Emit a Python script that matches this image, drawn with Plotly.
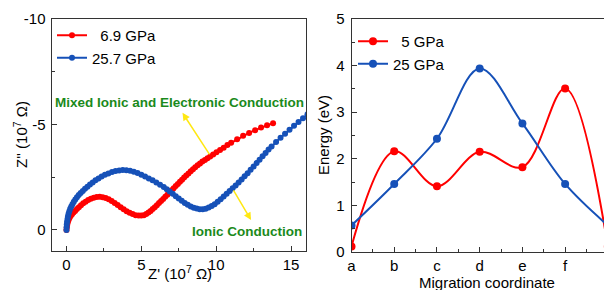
import plotly.graph_objects as go

# ---------------- data: left panel (Nyquist plot) ----------------
red_label = "\u00a0\u00a06.9 GPa"
blue_label = "25.7 GPa"
red_zre = [0, 0.02, 0.05, 0.09, 0.14, 0.2, 0.28, 0.37, 0.47, 0.58, 0.7, 0.83, 0.97, 1.12, 1.28,
           1.45, 1.63, 1.82, 2.02, 2.22, 2.42, 2.62, 2.82, 3.02, 3.22, 3.42, 3.62, 3.82, 4.02,
           4.22, 4.42, 4.62, 4.82, 5.0, 5.17, 5.33, 5.48, 5.62, 5.76, 5.9, 6.04, 6.18, 6.32,
           6.46, 6.6, 6.74, 6.88, 7.02, 7.16, 7.3, 7.44, 7.58, 7.72, 7.86, 8.0, 8.15, 8.3, 8.45,
           8.6, 8.76, 8.92, 9.08, 9.25, 9.42, 9.6, 9.8, 10.02, 10.26, 10.5, 10.75, 11.0, 11.4,
           11.8, 12.2, 12.6, 13.0, 13.4, 13.8]
red_zim = [0, -0.12, -0.24, -0.36, -0.47, -0.57, -0.66, -0.74, -0.82, -0.9, -0.99, -1.08, -1.17,
           -1.26, -1.34, -1.42, -1.48, -1.53, -1.56, -1.57, -1.55, -1.51, -1.45, -1.37, -1.28,
           -1.18, -1.08, -0.98, -0.89, -0.81, -0.75, -0.7, -0.68, -0.68, -0.7, -0.75, -0.82,
           -0.9, -0.99, -1.08, -1.17, -1.27, -1.37, -1.47, -1.57, -1.67, -1.77, -1.88, -1.98,
           -2.08, -2.18, -2.28, -2.38, -2.48, -2.58, -2.68, -2.78, -2.88, -2.97, -3.06, -3.15,
           -3.24, -3.32, -3.4, -3.48, -3.58, -3.68, -3.79, -3.9, -4.02, -4.13, -4.3, -4.46,
           -4.6, -4.73, -4.85, -4.96, -5.06]
blue_zre = [0, 0.01, 0.02, 0.04, 0.07, 0.1, 0.14, 0.19, 0.25, 0.32, 0.4, 0.49, 0.59, 0.7, 0.82,
            0.95, 1.09, 1.24, 1.4, 1.57, 1.75, 1.94, 2.14, 2.35, 2.57, 2.8, 3.04, 3.28, 3.52,
            3.76, 4.0, 4.25, 4.5, 4.75, 5.0, 5.25, 5.5, 5.75, 6.0, 6.25, 6.5, 6.7, 6.9, 7.1,
            7.3, 7.5, 7.7, 7.9, 8.1, 8.3, 8.5, 8.7, 8.9, 9.1, 9.3, 9.5, 9.7, 9.9, 10.1, 10.3,
            10.5, 10.7, 10.9, 11.1, 11.3, 11.5, 11.7, 11.9, 12.1, 12.3, 12.5, 12.7, 12.9, 13.1,
            13.3, 13.5, 13.7, 14.0, 14.3, 14.6, 14.9, 15.2, 15.5, 15.8, 16.1]
blue_zim = [0, -0.13, -0.26, -0.39, -0.52, -0.65, -0.77, -0.89, -1.0, -1.11, -1.22, -1.33, -1.44,
            -1.55, -1.65, -1.75, -1.85, -1.95, -2.05, -2.15, -2.25, -2.35, -2.44, -2.53, -2.61,
            -2.68, -2.74, -2.79, -2.82, -2.84, -2.83, -2.81, -2.76, -2.7, -2.62, -2.53, -2.44,
            -2.35, -2.25, -2.14, -2.03, -1.93, -1.82, -1.71, -1.6, -1.49, -1.38, -1.28, -1.19,
            -1.11, -1.05, -1.01, -0.98, -0.98, -1.0, -1.06, -1.13, -1.22, -1.33, -1.45, -1.58,
            -1.71, -1.84, -1.97, -2.11, -2.25, -2.39, -2.54, -2.69, -2.85, -3.01, -3.17, -3.33,
            -3.49, -3.65, -3.81, -3.96, -4.17, -4.37, -4.56, -4.75, -4.94, -5.12, -5.3, -5.48]

left_xticks = [0, 5, 10, 15]
left_xminor = [2.5, 7.5, 12.5]
left_yticks = [-10, -5, 0]
left_yticktext = ["-10", "-5", "0"]
left_yminor = [-7.5, -2.5]

# ---------------- data: right panel (energy profile) ----------------
coord_labels = ["a", "b", "c", "d", "e", "f", "g"]
coord_pos = [0, 1, 2, 3, 4, 5, 6]
energy_5gpa = [0.12, 2.16, 1.41, 2.15, 1.82, 3.51, 0.12]
energy_25gpa = [0.57, 1.46, 2.43, 3.94, 2.76, 1.46, 0.57]
label_5 = "\u00a0\u00a05 GPa"
label_25 = "25 GPa"
right_yticks = [0, 1, 2, 3, 4, 5]
right_yminor = [0.5, 1.5, 2.5, 3.5, 4.5]
right_xminor = [0.5, 1.5, 2.5, 3.5, 4.5, 5.5]

RED = "#ff0000"
BLUE = "#1651b8"
GREEN = "#1b8a1b"
YELLOW = "#ffe812"
FONT = "Liberation Sans, Arial, sans-serif"
AX = "#333333"

fig = go.Figure()

fig.add_trace(go.Scatter(x=red_zre, y=red_zim, mode="lines+markers", name=red_label,
                         line=dict(color=RED, width=2), marker=dict(color=RED, size=6),
                         xaxis="x", yaxis="y", legend="legend"))
fig.add_trace(go.Scatter(x=blue_zre, y=blue_zim, mode="lines+markers", name=blue_label,
                         line=dict(color=BLUE, width=2), marker=dict(color=BLUE, size=6),
                         xaxis="x", yaxis="y", legend="legend"))

fig.add_trace(go.Scatter(x=coord_pos, y=energy_5gpa, mode="lines+markers", name=label_5,
                         line=dict(color=RED, width=2, shape="spline", smoothing=1.0),
                         marker=dict(color=RED, size=8),
                         xaxis="x2", yaxis="y2", legend="legend2"))
fig.add_trace(go.Scatter(x=coord_pos, y=energy_25gpa, mode="lines+markers", name=label_25,
                         line=dict(color=BLUE, width=2, shape="spline", smoothing=1.0),
                         marker=dict(color=BLUE, size=8),
                         xaxis="x2", yaxis="y2", legend="legend2"))

W, H = 604, 290
def px(v):
    return v / W
def py(v):
    return 1 - v / H

common_axis = dict(showline=True, linecolor=AX, linewidth=1, ticks="inside", ticklen=5,
                   tickcolor=AX, showgrid=False, zeroline=False, automargin=False,
                   tickfont=dict(family=FONT, size=15, color="black"))

fig.update_layout(
    width=W, height=H, margin=dict(l=0, r=0, t=0, b=0, autoexpand=False),
    paper_bgcolor="white", plot_bgcolor="white",
    font=dict(family=FONT, color="black"),
    xaxis=dict(domain=[px(51.5), px(306)], range=[-1, 16], anchor="y", mirror=True,
               tickvals=left_xticks,
               minor=dict(tickvals=left_xminor, ticks="inside", ticklen=3, tickcolor=AX),
               **common_axis),
    yaxis=dict(domain=[py(251), py(19)], range=[1, -10], anchor="x", mirror=True,
               tickvals=left_yticks, ticktext=left_yticktext, ticklabelstandoff=2,
               minor=dict(tickvals=left_yminor, ticks="inside", ticklen=3, tickcolor=AX),
               **common_axis),
    xaxis2=dict(domain=[px(351.5), 1.0], range=[0, 5.91], anchor="y2", mirror=True,
                tickvals=coord_pos[:6], ticktext=coord_labels[:6],
                minor=dict(tickvals=right_xminor, ticks="inside", ticklen=3, tickcolor=AX),
                **common_axis),
    yaxis2=dict(domain=[py(252), py(19)], range=[0, 5], anchor="x2", mirror=False,
                tickvals=right_yticks, ticklabelstandoff=3,
                minor=dict(tickvals=right_yminor, ticks="inside", ticklen=3, tickcolor=AX),
                **common_axis),
    legend=dict(x=px(52), y=py(19), xanchor="left", yanchor="top",
                bgcolor="rgba(0,0,0,0)", font=dict(size=15), itemwidth=30,
                tracegroupgap=0),
    legend2=dict(x=px(353), y=py(25), xanchor="left", yanchor="top",
                 bgcolor="rgba(0,0,0,0)", font=dict(size=15), itemwidth=30,
                 tracegroupgap=0),
    showlegend=True,
)

# axis titles
fig.add_annotation(text="Z' (10<sup>7</sup> Ω)", xref="paper", yref="paper", x=px(180), y=py(272),
                   xanchor="center", yanchor="middle", showarrow=False, font=dict(size=15))
fig.add_annotation(text="Z'' (10<sup>7</sup> Ω)", xref="paper", yref="paper", x=px(21), y=py(135),
                   xanchor="center", yanchor="middle", textangle=-90, showarrow=False,
                   font=dict(size=15))
fig.add_annotation(text="Migration coordinate", xref="paper", yref="paper", x=px(487), y=py(282),
                   xanchor="center", yanchor="middle", showarrow=False, font=dict(size=15))
fig.add_annotation(text="Energy (eV)", xref="paper", yref="paper", x=px(324), y=py(135),
                   xanchor="center", yanchor="middle", textangle=-90, showarrow=False,
                   font=dict(size=15))

# text labels
fig.add_annotation(text="<b>Mixed Ionic and Electronic Conduction</b>", xref="paper", yref="paper",
                   x=px(179), y=py(103), xanchor="center", yanchor="middle", showarrow=False,
                   font=dict(size=13.5, color=GREEN))
fig.add_annotation(text="<b>Ionic Conduction</b>", xref="paper", yref="paper",
                   x=px(247), y=py(231), xanchor="center", yanchor="middle", showarrow=False,
                   font=dict(size=13.5, color=GREEN))

# arrows
fig.add_annotation(x=7.75, y=-5.55, ax=9.62, ay=-3.51, xref="x", yref="y", axref="x", ayref="y",
                   text="", showarrow=True, arrowhead=2, arrowsize=1, arrowwidth=1.5,
                   arrowcolor=YELLOW)
fig.add_annotation(x=12.33, y=-0.47, ax=11.1, ay=-1.94, xref="x", yref="y", axref="x", ayref="y",
                   text="", showarrow=True, arrowhead=2, arrowsize=1, arrowwidth=1.5,
                   arrowcolor=YELLOW)

fig.write_html("out.html", config={"displayModeBar": False},
               post_script="document.body.style.margin='0';document.body.style.overflow='hidden';")
